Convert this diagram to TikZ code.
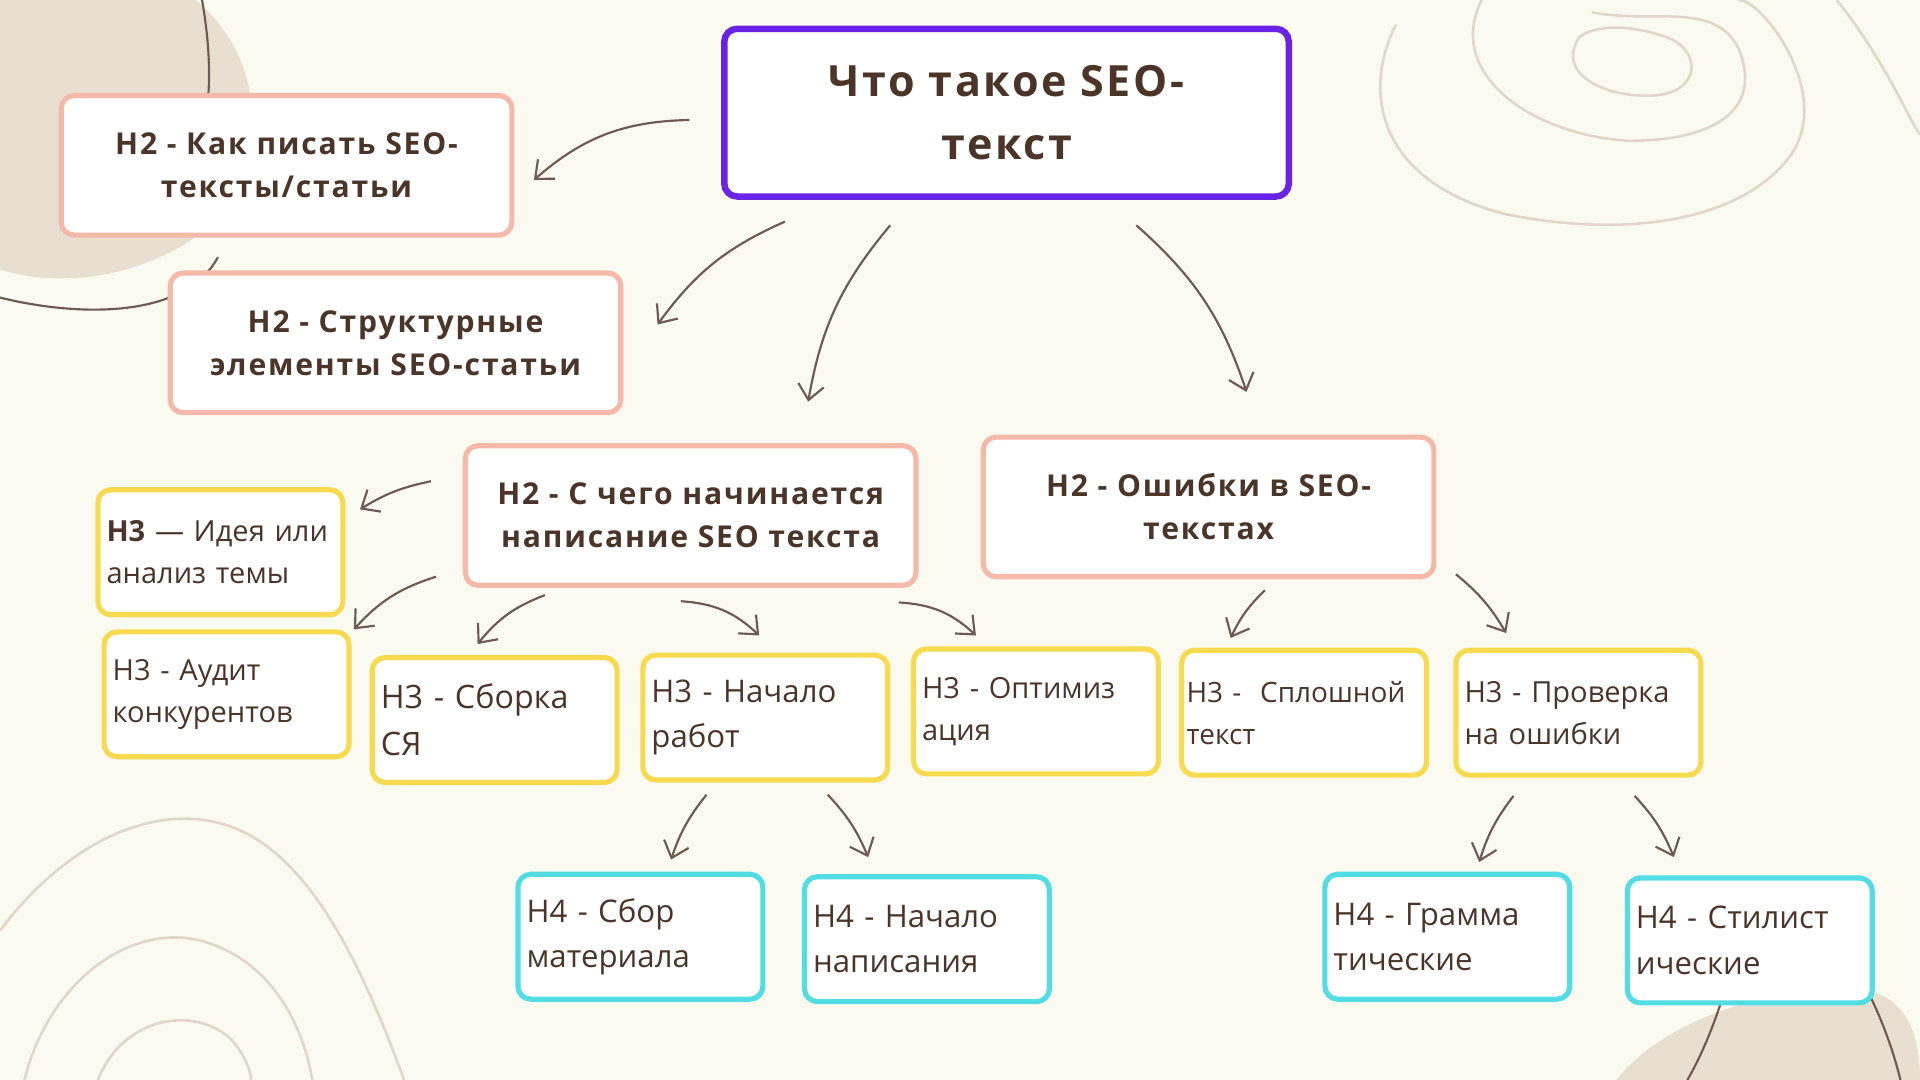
\documentclass[tikz,border=0pt]{standalone}
\usepackage{fontspec}
\setmainfont{Open Sans}
\newfontfamily\spacedbold[LetterSpace=6]{Open Sans}
\usetikzlibrary{arrows.meta}
\definecolor{bgc}{HTML}{FBFAF1}
\definecolor{blob}{HTML}{E9DFD1}
\definecolor{linec}{HTML}{E2D6C8}
\definecolor{txt}{HTML}{4A3528}
\definecolor{purp}{HTML}{6A22E6}
\definecolor{pinkc}{HTML}{F5B9AA}
\definecolor{yel}{HTML}{F8DA4E}
\definecolor{cya}{HTML}{52DCE3}
\definecolor{arr}{HTML}{6E5A52}
\tikzset{
 x=0.02cm,y=-0.02cm,
 boxbase/.style={draw,rounded corners=6pt,line width=2.4pt,fill=white,text=txt,inner sep=0pt},
 topbox/.style={boxbase,draw=purp,line width=3pt,minimum width=461*0.02cm,minimum height=137*0.02cm,font=\spacedbold\bfseries\fontsize{20}{29}\selectfont,align=center},
 htwo/.style={boxbase,draw=pinkc,minimum width=368*0.02cm,minimum height=114*0.02cm,font=\spacedbold\bfseries\fontsize{14}{20}\selectfont,align=center},
 hthree/.style={boxbase,draw=yel,minimum width=200*0.02cm,minimum height=102*0.02cm,font=\fontsize{13.5}{19.5}\selectfont,align=left,text width=186*0.02cm},
 hfour/.style={boxbase,draw=cya,minimum width=200*0.02cm,minimum height=102*0.02cm,font=\fontsize{14.5}{21}\selectfont,align=left,text width=186*0.02cm},
 conn/.style={draw=arr,line width=1pt,-{Straight Barb[length=7pt,width=12pt]}},
}
\begin{document}
\begin{tikzpicture}
\fill[bgc] (0,0) rectangle (1568,882);
\useasboundingbox (0,0) rectangle (1568,882);
% decorations
\fill[blob] (0,0) -- (160,0) .. controls (230,60) and (215,160) .. (150,200) .. controls (90,235) and (30,230) .. (0,220) -- cycle;
\draw[arr,line width=1pt] (0,243) .. controls (60,258) and (150,262) .. (178,210);
\draw[arr,line width=1pt] (165,0) .. controls (172,40) and (172,70) .. (168,100);
\fill[blob] (1320,882) .. controls (1360,830) and (1460,800) .. (1530,810) .. controls (1560,820) and (1568,850) .. (1568,882) -- cycle;
\draw[arr,line width=1pt] (1405,820) .. controls (1395,850) and (1385,870) .. (1378,882);
\draw[arr,line width=1pt] (1528,815) .. controls (1540,840) and (1548,865) .. (1552,882);
\draw[linec,line width=1.2pt] (1140,20) .. controls (1110,80) and (1130,150) .. (1230,175) .. controls (1330,195) and (1420,180) .. (1460,130) .. controls (1500,80) and (1440,0) .. (1420,0);
\draw[linec,line width=1.2pt] (1210,0) .. controls (1180,60) and (1250,110) .. (1330,115) .. controls (1400,115) and (1440,90) .. (1420,40) .. controls (1400,0) and (1350,20) .. (1300,10);
\draw[linec,line width=1.2pt] (1290,30) .. controls (1270,60) and (1310,80) .. (1350,78) .. controls (1390,76) and (1390,40) .. (1360,30) .. controls (1330,20) and (1305,20) .. (1290,30);
\draw[linec,line width=1.2pt] (1500,0) .. controls (1540,50) and (1560,100) .. (1568,110);
\draw[linec,line width=1.2pt] (0,760) .. controls (60,680) and (140,650) .. (200,680) .. controls (260,710) and (300,800) .. (330,882);
\draw[linec,line width=1.2pt] (20,882) .. controls (40,800) and (110,750) .. (170,770) .. controls (230,790) and (250,850) .. (255,882);
\draw[linec,line width=1.2pt] (80,882) .. controls (100,830) and (160,820) .. (190,850) .. controls (200,862) and (205,875) .. (205,882);
% nodes
\node[topbox] (top) at (822,92) {Что такое SEO-\\текст};
\node[htwo] (a) at (234,135) {H2 - Как писать SEO-\\тексты/статьи};
\node[htwo] (b) at (323,280) {H2 - Структурные\\элементы SEO-статьи};
\node[htwo] (c) at (564,421) {H2 - С чего начинается\\написание SEO текста};
\node[htwo] (d) at (987,414) {H2 - Ошибки в SEO-\\текстах};
\node[hthree] (i) at (180,451) {\textbf{H3} — Идея или\\анализ темы};
\node[hthree] (au) at (185,567) {H3 - Аудит\\конкурентов};
\node[hthree,font=\fontsize{15}{22}\selectfont] (sb) at (404,588) {H3 - Сборка\\СЯ};
\node[hthree,font=\fontsize{14.5}{21}\selectfont] (na) at (625,586) {H3 - Начало\\работ};
\node[hthree] (op) at (846,581) {H3 - Оптимиз\\ация};
\node[hthree,text width=192*0.02cm,font=\fontsize{13}{19.5}\selectfont] (sp) at (1065,582) {H3 -\ \ Сплошной\\текст};
\node[hthree] (pr) at (1289,582) {H3 - Проверка\\на ошибки};
\node[hfour] (s4) at (523,765) {H4 - Сбор\\материала};
\node[hfour] (n4) at (757,767) {H4 - Начало\\написания};
\node[hfour] (g4) at (1182,765) {H4 - Грамма\\тические};
\node[hfour] (st4) at (1429,768) {H4 - Стилист\\ические};
% connector ends
\foreach \n/\x/\y in {p1/563/98,q1/436/147,p2/641/181,q2/537/265,p3/727/184,q3/660/328,p4/928/184,q4/1018/320,
 p5/352/393,q5/294/416,p6/356/471,q6/289/514,p7/445/486,q7/390/526,p8/556/491,q8/620/519,p9/734/492,q9/797/519,
 p10/1033/482,q10/1005/521,p11/1189/469,q11/1230/517,p12/577/649,q12/548/702,p13/676/649,q13/709/700,
 p14/1236/650,q14/1208/704,p15/1335/650,q15/1367/700}{\coordinate (\n) at (\x,\y);}
\draw[conn] (p1) to[bend right=20] (q1);
\draw[conn] (p2) to[bend right=15] (q2);
\draw[conn] (p3) to[bend right=15] (q3);
\draw[conn] (p4) to[bend left=15] (q4);
\draw[conn] (p5) to[bend right=10] (q5);
\draw[conn] (p6) to[bend right=15] (q6);
\draw[conn] (p7) to[bend right=15] (q7);
\draw[conn] (p8) to[bend left=20] (q8);
\draw[conn] (p9) to[bend left=20] (q9);
\draw[conn] (p10) to[bend right=10] (q10);
\draw[conn] (p11) to[bend left=10] (q11);
\draw[conn] (p12) to[bend right=10] (q12);
\draw[conn] (p13) to[bend left=10] (q13);
\draw[conn] (p14) to[bend right=10] (q14);
\draw[conn] (p15) to[bend left=10] (q15);
\end{tikzpicture}
\end{document}
